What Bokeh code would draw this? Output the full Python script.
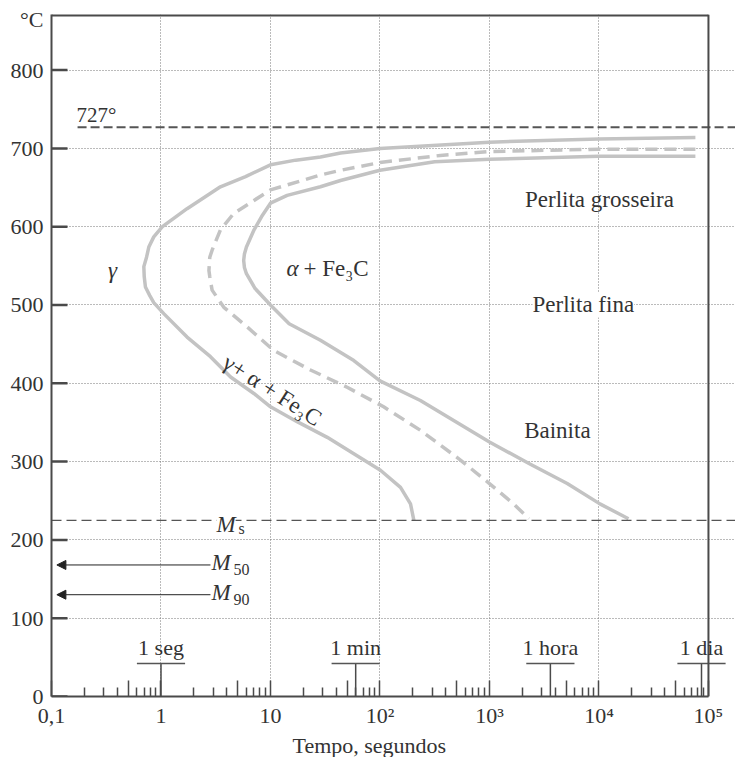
from bokeh.plotting import figure
from bokeh.models import (Range1d, FixedTicker, CustomJSTickFormatter, Label,
                          Arrow, NormalHead, Span, Title)
from bokeh.embed import file_html
from bokeh.resources import INLINE

# ---------------- data ----------------
# start of transformation (outer solid curve)
start_t = [7.6e4, 1.0e4, 1000, 100, 43.7, 28.6, 17.0, 10, 5.92, 3.49, 1.73,
           1.03, 0.859, 0.774, 0.738, 0.697, 0.703, 0.721, 0.79, 0.859, 1.06,
           1.73, 2.83, 4.32, 7.05, 10, 17.5, 33, 57.7, 101, 154, 190, 204]
start_T = [714, 712, 708, 700, 694, 689, 685, 679, 664, 651, 623,
           600, 587, 574, 561, 549, 536, 523, 512, 503, 489,
           459, 434, 408, 387, 370, 351, 331, 310, 289, 267, 246, 225]
# 50 % transformation (dashed curve)
half_t = [7.6e4, 1.0e4, 1000, 355, 100, 43.7, 28.6, 10, 4.62, 3.49, 2.93,
          2.79, 2.74, 2.79, 2.93, 3.75, 6.12, 10.7, 23.2, 50.1, 108, 234,
          543, 1000, 1660, 2290]
half_T = [699, 699, 696, 691, 682, 672, 666, 647, 617, 596, 570,
          561, 544, 536, 519, 497, 472, 442, 417, 395, 370, 340,
          302, 272, 246, 227]
# end of transformation (inner solid curve)
end_t = [7.6e4, 1.0e4, 1000, 316, 100, 43.6, 28.6, 14.2, 10, 8.3, 7.08,
         6.03, 5.78, 5.69, 5.78, 6.03, 7.24, 10, 14.8, 28.6, 57.7, 100,
         234, 1000, 2340, 5130, 1.02e4, 1.86e4]
end_T = [690, 690, 686, 683, 672, 659, 651, 640, 630, 613, 596,
         574, 565, 557, 548, 540, 521, 500, 476, 455, 429, 403,
         378, 325, 297, 272, 246, 227]

eutectoid_T = 727
Ms_T = 225
M50_T = 168
M90_T = 130

time_marks = [1, 60, 3600, 86400]
time_labels = ["1 seg", "1 min", "1 hora", "1 dia"]

x_tick_vals = [0.1, 1, 10, 100, 1000, 1e4, 1e5]
x_tick_labels = ["0,1", "1", "10", "10²", "10³", "10⁴", "10⁵"]
y_tick_vals = [0, 100, 200, 300, 400, 500, 600, 700, 800]
y_unit = "°C"

# ---------------- styling ----------------
SERIF = "Liberation Serif"
AX = "#4a4a4a"
TXT = "#333333"
CURVE = "#c3c3c3"
FS = "22px"
X_END = 10 ** 5.247          # frame extends a little past 10^5
Y_TOP = 871
TICK_X = 0.1 * 10 ** (16 / 109.5)   # 16 px inward tick length on the log axis

p = figure(frame_width=684, frame_height=682, x_axis_type="log",
           x_range=Range1d(0.1, X_END), y_range=Range1d(0, Y_TOP),
           output_backend="svg", toolbar_location=None,
           min_border_left=51, min_border_right=0,
           min_border_top=14, min_border_bottom=0)
p.background_fill_color = "white"
p.border_fill_color = "white"
p.outline_line_color = None

# x axis
decades = [10.0 ** k for k in range(-1, 6)]
fives = [5 * d for d in decades[:-1]]
minors = [m * d for d in decades[:-1] for m in (2, 3, 4, 6, 7, 8, 9)]
xa = p.xaxis[0]
xa.bounds = (0.1, 1e5)
xa.ticker = FixedTicker(ticks=decades + fives, minor_ticks=minors)
xa.formatter = CustomJSTickFormatter(
    args=dict(vals=x_tick_vals, labs=x_tick_labels),
    code="""
for (let i = 0; i < vals.length; i++) {
  if (Math.abs(Math.log10(vals[i]) - Math.log10(tick)) < 1e-6) return labs[i];
}
return "";
""")
xa.major_tick_in = 16
xa.major_tick_out = 0
xa.minor_tick_in = 9
xa.minor_tick_out = 0
xa.major_tick_line_color = AX
xa.minor_tick_line_color = AX
xa.major_tick_line_width = 1.5
xa.minor_tick_line_width = 1.5
xa.axis_line_color = AX
xa.axis_line_width = 2
xa.major_label_text_font = SERIF
xa.major_label_text_font_size = FS
xa.major_label_text_color = TXT
xa.major_label_standoff = 6

p.add_layout(Title(text="Tempo, segundos", align="left", offset=241,
                   text_font=SERIF, text_font_size="22px",
                   text_font_style="normal", text_color=TXT,
                   standoff=0), "below")

# y axis
ya = p.yaxis[0]
ya.ticker = FixedTicker(ticks=y_tick_vals + [864])
ya.formatter = CustomJSTickFormatter(
    args=dict(unit=y_unit),
    code="return tick > 850 ? unit : String(tick);")
ya.major_tick_in = 0
ya.major_tick_out = 0
ya.minor_tick_line_color = None
ya.axis_line_color = AX
ya.axis_line_width = 2
ya.major_label_text_font = SERIF
ya.major_label_text_font_size = FS
ya.major_label_text_color = TXT
ya.major_label_standoff = 8

# inward y tick marks
p.segment(x0=[0.1] * len(y_tick_vals), y0=y_tick_vals,
          x1=[TICK_X] * len(y_tick_vals), y1=y_tick_vals,
          line_color=AX, line_width=2.5)

# frame: top border and right border at 10^5
p.segment(x0=[0.1], y0=[Y_TOP], x1=[1e5], y1=[Y_TOP], line_color=AX,
          line_width=4)
p.add_layout(Span(location=1e5, dimension="height", line_color=AX,
                  line_width=2))

# grid
p.xgrid.ticker = FixedTicker(ticks=[1, 10, 100, 1000, 1e4])
p.ygrid.ticker = FixedTicker(ticks=y_tick_vals[1:])
for g in (p.xgrid[0], p.ygrid[0]):
    g.grid_line_color = "#777777"
    g.grid_line_dash = "1 2"
    g.grid_line_width = 1
p.xgrid[0].bounds = (0.1, 1e5)
p.ygrid[0].bounds = (0, Y_TOP)

# curves
p.line(start_t, start_T, line_color=CURVE, line_width=3.5,
       line_join="round")
p.line(half_t, half_T, line_color=CURVE, line_width=3.5, line_dash="12 7",
       line_join="round")
p.line(end_t, end_T, line_color=CURVE, line_width=3.5, line_join="round")

# eutectoid and Ms lines
p.segment(x0=[0.173], y0=[eutectoid_T], x1=[X_END], y1=[eutectoid_T],
          line_color="#555555", line_width=2, line_dash="9 4")
p.segment(x0=[0.1], y0=[Ms_T], x1=[X_END], y1=[Ms_T],
          line_color="#555555", line_width=1.2, line_dash="10 5")

# M50 / M90 arrows
for T in (M50_T, M90_T):
    p.add_layout(Arrow(end=NormalHead(size=9, fill_color="#222222",
                                      line_color="#222222"),
                       x_start=2.83, y_start=T, x_end=0.112, y_end=T,
                       line_color="#222222", line_width=1))

# time markers
bar_T = 42
n = len(time_marks)
p.segment(x0=time_marks, y0=[0] * n, x1=time_marks, y1=[bar_T] * n,
          line_color=AX, line_width=1.5)
p.segment(x0=[t / 1.66 for t in time_marks], y0=[bar_T] * n,
          x1=[t * 1.66 for t in time_marks], y1=[bar_T] * n,
          line_color="#555555", line_width=1.5)


def lab(x, y, text, size="23px", style="normal", align="center",
        baseline="middle", angle=0, bg=None, xo=0, yo=0):
    lb = Label(x=x, y=y, text=text, text_align=align, text_baseline=baseline,
               text_font=SERIF, text_font_size=size, text_font_style=style,
               text_color=TXT, angle=angle, x_offset=xo, y_offset=yo)
    if bg:
        lb.background_fill_color = bg
    p.add_layout(lb)


for t, txt in zip(time_marks, time_labels):
    lab(t, 47, txt, size=FS, baseline="bottom")

lab(0.2575, 743, "727°", size="21px")
lab(0.36, 544, "γ", style="italic")
lab(18.8, 546, "α", style="italic", align="right", xo=-2)
lab(18.8, 546, "+ Fe₃C", align="left", xo=3)
lab(10.4, 391, "γ+ α + Fe₃C", angle=-0.57)
lab(1.01e4, 635, "Perlita grosseira")
lab(7200, 500, "Perlita fina", bg="white")
lab(4170, 340, "Bainita")
# Ms, M50, M90
lab(3.21, Ms_T, "M", style="italic", align="left", bg="white", yo=-4)
lab(3.21, Ms_T, "s", size="16px", align="left", xo=22, yo=-8)
for T, sub in ((M50_T, "50"), (M90_T, "90")):
    lab(2.9, T, "M", style="italic", align="left", yo=2)
    lab(2.9, T, sub, size="16px", align="left", xo=22, yo=-5)

open("out.html", "w").write(file_html(p, INLINE))
